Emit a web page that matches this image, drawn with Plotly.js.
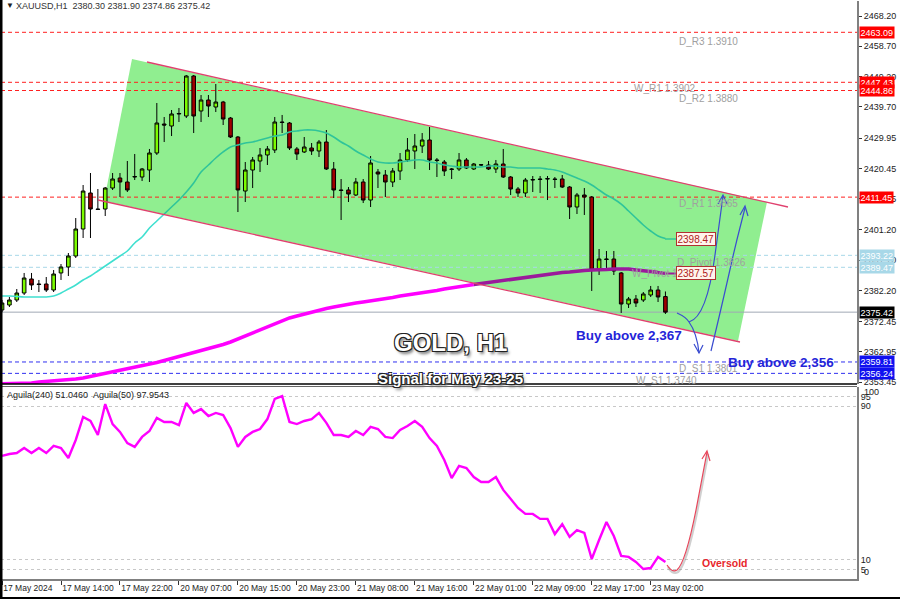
<!DOCTYPE html>
<html>
<head>
<meta charset="utf-8">
<script src="https://cdn.plot.ly/plotly-3.0.1.min.js"></script>
<style>html,body{margin:0;padding:0;background:#fff;}#chart{width:900px;height:599px;}</style>
</head>
<body>
<div id="chart"></div>
<script>
// ---------------- DATA ----------------
const barIndex = [0,1,2,3,4,5,6,7,8,9,10,11,12,13,14,15,16,17,18,19,20,21,22,23,24,25,26,27,28,29,30,31,32,33,34,35,36,37,38,39,40,41,42,43,44,45,46,47,48,49,50,51,52,53,54,55,56,57,58,59,60,61,62,63,64,65,66,67,68,69,70,71,72,73,74,75,76,77,78,79,80,81,82,83,84,85,86,87,88,89,90];
const tickIdx = [0,8,16,24,32,40,48,56,64,72,80,88];
const tickLabels = ['17 May 2024','17 May 14:00','17 May 22:00','20 May 07:00','20 May 15:00','20 May 23:00','21 May 08:00','21 May 16:00','22 May 01:00','22 May 09:00','22 May 17:00','23 May 02:00'];

const openP = [2376.10,2377.66,2379.23,2381.42,2385.81,2384.24,2384.24,2382.36,2387.69,2389.57,2393.01,2401.47,2412.75,2407.73,2407.73,2414.31,2417.45,2416.19,2417.76,2417.76,2419.95,2425.28,2434.36,2433.74,2437.50,2436.87,2449.40,2438.44,2441.88,2439.69,2441.25,2436.24,2430.29,2413.37,2419.95,2422.77,2424.66,2426.22,2434.99,2434.68,2426.54,2425.60,2426.85,2425.91,2428.72,2420.27,2413.69,2413.69,2412.12,2416.19,2410.55,2419.33,2418.39,2416.19,2419.64,2423.09,2425.91,2427.47,2429.35,2423.09,2422.46,2420.27,2420.27,2423.09,2420.27,2421.52,2421.52,2420.27,2421.83,2417.76,2414.00,2412.75,2416.82,2417.13,2417.13,2417.13,2417.13,2414.62,2408.36,2412.12,2411.49,2388.62,2392.07,2392.07,2387.69,2377.97,2379.54,2379.23,2380.79,2382.36,2380.30];
const highP = [2379.23,2380.17,2382.67,2387.69,2387.69,2385.50,2386.43,2388.62,2390.50,2393.95,2404.91,2415.25,2419.01,2414.00,2414.62,2419.01,2419.01,2422.77,2424.97,2420.58,2426.54,2440.94,2436.56,2438.75,2439.38,2449.71,2449.71,2443.45,2443.45,2446.89,2441.60,2436.56,2430.60,2422.46,2424.03,2426.85,2427.47,2436.56,2437.19,2434.99,2427.16,2430.29,2428.41,2429.35,2432.48,2422.46,2417.13,2414.62,2417.45,2417.13,2424.34,2420.27,2419.95,2420.58,2425.28,2429.98,2431.23,2431.54,2433.42,2423.71,2423.09,2420.58,2425.28,2423.71,2422.15,2421.83,2422.77,2423.09,2426.54,2418.07,2414.62,2417.45,2418.07,2418.07,2418.07,2417.76,2418.39,2414.94,2412.75,2414.31,2411.81,2395.20,2394.58,2394.58,2388.00,2380.17,2380.79,2381.73,2383.62,2383.62,2381.90];
const lowP = [2375.47,2377.03,2378.60,2380.79,2382.36,2381.73,2381.73,2381.73,2385.50,2386.74,2392.38,2398.65,2398.65,2407.42,2405.54,2413.69,2411.49,2413.06,2416.82,2416.50,2416.19,2424.66,2428.72,2430.60,2434.99,2436.24,2431.54,2434.99,2436.56,2438.12,2434.05,2429.98,2406.79,2409.93,2414.31,2419.33,2421.52,2425.28,2431.54,2426.22,2423.09,2425.28,2424.66,2424.03,2419.95,2411.18,2404.29,2409.93,2411.81,2409.61,2408.36,2414.31,2411.49,2414.62,2416.82,2422.46,2420.27,2425.28,2419.95,2417.76,2418.07,2417.13,2419.64,2420.27,2419.95,2421.21,2419.95,2419.01,2417.45,2412.12,2411.49,2411.49,2413.06,2412.75,2410.55,2414.31,2414.31,2404.60,2406.17,2405.86,2382.05,2387.06,2388.31,2387.06,2375.16,2376.72,2377.03,2378.60,2380.17,2378.60,2374.86];
const closeP = [2378.29,2379.23,2381.42,2386.12,2383.93,2384.10,2382.36,2387.37,2389.57,2393.01,2401.47,2413.37,2407.73,2407.60,2414.31,2417.13,2416.19,2413.69,2417.90,2420.27,2425.28,2434.68,2434.05,2437.50,2437.65,2449.40,2436.87,2441.88,2440.00,2441.25,2435.93,2430.29,2413.69,2419.95,2423.09,2424.66,2426.54,2434.99,2434.85,2426.85,2424.97,2427.16,2425.91,2428.72,2420.27,2413.69,2413.55,2412.43,2416.19,2410.55,2422.15,2418.70,2416.19,2419.64,2423.09,2426.22,2427.47,2429.35,2423.09,2422.95,2419.64,2420.15,2423.09,2420.58,2421.83,2421.60,2420.27,2421.83,2417.76,2414.00,2412.75,2416.82,2416.95,2417.00,2417.25,2417.00,2414.62,2408.36,2412.12,2411.49,2388.62,2392.07,2391.95,2388.31,2377.97,2379.54,2378.29,2381.11,2382.36,2380.17,2375.42];

const maFast = [2380.48,2380.48,2380.32,2380.17,2380.17,2380.17,2380.17,2380.48,2381.42,2382.67,2383.93,2385.50,2386.74,2388.31,2389.88,2391.45,2393.01,2394.58,2397.09,2398.97,2401.78,2403.98,2406.17,2408.36,2410.55,2413.06,2415.88,2419.33,2421.52,2423.71,2425.60,2427.16,2427.79,2428.41,2428.72,2429.35,2429.98,2430.60,2430.92,2431.86,2432.17,2432.48,2432.48,2432.17,2431.54,2430.29,2428.72,2427.47,2425.91,2424.66,2423.40,2422.46,2422.15,2422.15,2422.46,2422.77,2423.09,2423.09,2422.46,2422.15,2421.52,2421.21,2420.89,2420.89,2420.89,2420.89,2421.21,2421.21,2420.89,2420.89,2420.58,2420.58,2420.58,2420.58,2420.27,2419.95,2419.33,2418.39,2417.45,2416.51,2415.25,2413.69,2412.12,2410.87,2409.30,2407.11,2404.91,2402.72,2400.84,2399.28,2398.47];
const maSlow = [2353.00,2353.00,2353.07,2353.22,2353.22,2353.54,2353.69,2353.85,2354.01,2354.16,2354.48,2354.79,2355.26,2355.73,2356.20,2356.67,2357.14,2357.61,2358.08,2358.55,2359.02,2359.65,2360.27,2360.90,2361.37,2361.99,2362.62,2363.25,2363.87,2364.50,2365.28,2366.07,2367.01,2367.95,2368.89,2369.83,2370.77,2371.71,2372.65,2373.59,2374.21,2374.84,2375.47,2376.10,2376.57,2377.04,2377.51,2377.82,2378.29,2378.60,2378.92,2379.39,2379.70,2380.01,2380.48,2380.79,2381.11,2381.58,2381.89,2382.20,2382.67,2382.98,2383.45,2383.77,2384.08,2384.39,2384.86,2385.18,2385.49,2385.81,2386.12,2386.43,2386.74,2387.06,2387.37,2387.69,2387.84,2388.00,2388.31,2388.47,2388.62,2388.62,2388.78,2388.94,2388.94,2388.94,2388.62,2388.47,2388.16,2387.84,2387.57];
const aguila = [64.1,65.1,65.6,68.2,65.6,68.2,65.6,69.3,68.2,63.0,72.4,84.4,82.3,75.0,91.1,80.7,76.6,70.8,68.8,74.0,77.1,83.9,81.8,81.8,80.2,91.7,86.5,88.5,84.9,86.5,85.4,78.6,68.8,74.0,76.6,78.1,83.3,93.8,95.3,81.8,80.7,82.3,83.3,86.5,81.3,75.0,75.0,74.0,77.1,75.0,79.2,78.1,74.0,73.4,77.6,79.7,82.3,79.2,73.4,69.3,62.0,52.6,58.9,57.8,53.1,50.5,50.5,53.1,46.4,41.7,37.0,33.9,33.9,31.3,31.3,23.4,28.6,21.9,25.5,24.0,10.4,20.3,29.7,22.4,12.0,11.5,8.9,5.2,5.7,11.5,8.9];

const priceTickVals = [2468.20,2458.70,2449.20,2439.70,2429.95,2420.45,2410.95,2401.20,2391.70,2382.20,2372.45,2362.95,2353.45];
const redLevels = [2463.09,2447.43,2444.86,2411.45];
const lightBlueLevels = [2393.22,2389.47];
const blueLevels = [2359.81,2356.24];
const lastPrice = 2375.42;
const header = {o:'2380.30', h:'2381.90', l:'2374.86', c:'2375.42'};

// ---------------- HELPERS ----------------
const W = 900, H = 599;
const FONT = 'Liberation Sans, Arial, sans-serif';
const fx = px => px / W;
const fy = py => 1 - py / H;
const P = (px, py) => fx(px).toFixed(5) + ',' + fy(py).toFixed(5);
const fmt = v => v.toFixed(2);

const xStart = fx(1), xEnd = fx(857);

// ---------------- TRACES ----------------
const split1 = 22, split2 = 64;
const traces = [
  {type:'candlestick', x:barIndex, open:openP, high:highP, low:lowP, close:closeP,
   xaxis:'x', yaxis:'y', whiskerwidth:0,
   increasing:{fillcolor:'#7CFC00', line:{color:'#000', width:1}},
   decreasing:{fillcolor:'#A00000', line:{color:'#000', width:1}}},
  {type:'scatter', mode:'lines', x:barIndex.slice(0, split2+1), y:maSlow.slice(0, split2+1),
   line:{color:'#FF00FF', width:3.5}, yaxis:'y'},
  {type:'scatter', mode:'lines', x:barIndex.slice(split2), y:maSlow.slice(split2),
   line:{color:'#9B1A9B', width:3.5}, yaxis:'y'},
  {type:'scatter', mode:'lines', x:barIndex.slice(0, split1+1), y:maFast.slice(0, split1+1),
   line:{color:'#40E0D0', width:1.6, shape:'spline'}, yaxis:'y'},
  {type:'scatter', mode:'lines', x:barIndex.slice(split1), y:maFast.slice(split1),
   line:{color:'#2FC49A', width:1.6, shape:'spline'}, yaxis:'y'},
  {type:'scatter', mode:'lines', x:barIndex, y:aguila, yaxis:'y2',
   line:{color:'#FF00FF', width:2.4}}
];

// ---------------- SHAPES ----------------
const shapes = [];
shapes.push({type:'path', xref:'paper', yref:'paper', layer:'below',
  path:`M${P(132,59)} L${P(767,202)} L${P(738,341)} L${P(104,201)} Z`,
  fillcolor:'#90EE90', line:{width:0}});
redLevels.forEach(v => shapes.push({type:'line', xref:'paper', yref:'y', x0:xStart, x1:xEnd, y0:v, y1:v, layer:'below',
  line:{color:'#FF2020', width:1, dash:'4px,3px'}}));
lightBlueLevels.forEach(v => shapes.push({type:'line', xref:'paper', yref:'y', x0:xStart, x1:xEnd, y0:v, y1:v, layer:'below',
  line:{color:'#A8D8E8', width:1, dash:'4px,3px'}}));
blueLevels.forEach(v => shapes.push({type:'line', xref:'paper', yref:'y', x0:xStart, x1:xEnd, y0:v, y1:v, layer:'below',
  line:{color:'#3030F0', width:1, dash:'4px,3px'}}));
shapes.push({type:'line', xref:'paper', yref:'y', x0:xStart, x1:xEnd, y0:lastPrice, y1:lastPrice, layer:'below',
  line:{color:'#A0A8B4', width:1}});
shapes.push({type:'line', xref:'paper', yref:'paper', x0:fx(147), y0:fy(62), x1:fx(788), y1:fy(207),
  line:{color:'#E0406E', width:1.3}});
shapes.push({type:'line', xref:'paper', yref:'paper', x0:fx(98), y0:fy(200), x1:fx(740), y1:fy(342),
  line:{color:'#E0406E', width:1.3}});
shapes.push({type:'line', xref:'paper', yref:'paper', x0:fx(665), y0:fy(239), x1:fx(676), y1:fy(239), line:{color:'#2FC49A', width:1.4}});
shapes.push({type:'line', xref:'paper', yref:'paper', x0:fx(666), y0:fy(273.5), x1:fx(676), y1:fy(273.5), line:{color:'#9B1A9B', width:2}});
const blue = '#3A4CD0';
shapes.push({type:'path', xref:'paper', yref:'paper', path:`M${P(677,313)} Q${P(686,317)} ${P(689,322)} Q${P(697,333)} ${P(699,353)}`, line:{color:blue, width:1.2}});
shapes.push({type:'path', xref:'paper', yref:'paper', path:`M${P(694,344)} L${P(699,353)} L${P(703,345)}`, line:{color:blue, width:1.2}});
shapes.push({type:'path', xref:'paper', yref:'paper', path:`M${P(689,322)} C${P(704,318)} ${P(711,285)} ${P(715,255)} S${P(721,210)} ${P(723,196)}`, line:{color:blue, width:1.2}});
shapes.push({type:'path', xref:'paper', yref:'paper', path:`M${P(718,204)} L${P(723,195)} L${P(727,204)}`, line:{color:blue, width:1.2}});
shapes.push({type:'path', xref:'paper', yref:'paper', path:`M${P(711,351)} C${P(716,330)} ${P(725,292)} ${P(731,265)} S${P(741,224)} ${P(745,208)}`, line:{color:blue, width:1.2}});
shapes.push({type:'path', xref:'paper', yref:'paper', path:`M${P(740,215)} L${P(745,206)} L${P(748,216)}`, line:{color:blue, width:1.2}});
shapes.push({type:'path', xref:'paper', yref:'paper', path:`M${P(668,567)} Q${P(673,575)} ${P(678,572)} C${P(685,566)} ${P(691,542)} ${P(697,512)} L${P(708,454)}`, line:{color:'rgba(120,120,120,0.35)', width:2.5}});
shapes.push({type:'path', xref:'paper', yref:'paper', path:`M${P(667,565)} Q${P(672,573)} ${P(677,570)} C${P(684,564)} ${P(690,540)} ${P(696,510)} L${P(707,452)}`, line:{color:'#E8455A', width:1.2}});
shapes.push({type:'path', xref:'paper', yref:'paper', path:`M${P(702,459)} L${P(707,451)} L${P(710,461)}`, line:{color:'#E8455A', width:1.2}});
shapes.push({type:'line', xref:'paper', yref:'paper', x0:0, x1:fx(857), y0:fy(384), y1:fy(384), line:{color:'#000', width:1.5}});
shapes.push({type:'line', xref:'paper', yref:'paper', x0:0, x1:fx(857), y0:fy(386.5), y1:fy(386.5), line:{color:'#666', width:1}});
shapes.push({type:'rect', xref:'paper', yref:'paper', x0:0, x1:fx(2.5), y0:0, y1:1, fillcolor:'#000', line:{width:0}});
shapes.push({type:'rect', xref:'paper', yref:'paper', x0:0, x1:1, y0:0, y1:fy(597), fillcolor:'#000', line:{width:0}});

// ---------------- ANNOTATIONS ----------------
const ann = [];
const txt = (text, px, py, opts={}) => Object.assign({text, xref:'paper', yref:'paper', x:fx(px), y:fy(py),
  xanchor:'left', yanchor:'middle', showarrow:false, font:{family:FONT, size:10, color:'#A0A0A0'}}, opts);
ann.push(txt('▼', 4, 6, {font:{family:FONT, size:8, color:'#222'}}));
ann.push(txt('XAUUSD,H1\u00a0\u00a0' + [header.o, header.h, header.l, header.c].join('\u00a0'), 14, 6, {font:{family:FONT, size:9, color:'#333'}}));
ann.push(txt('Aguila(240) 51.0460\u00a0\u00a0Aguila(50) 97.9543', 5, 395, {font:{family:FONT, size:9, color:'#222'}}));
ann.push(txt('D_R3 1.3910', 677, 42));
ann.push(txt('W_R1 1.3902', 632, 89));
ann.push(txt('D_R2 1.3880', 677, 98));
ann.push(txt('D_R1 1.3865', 677, 204));
ann.push(txt('D_Pivot 1.3826', 675, 262));
ann.push(txt('W_Pivot 1.3816', 630, 274));
ann.push(txt('D_S1 1.3801', 677, 368));
ann.push(txt('W_S1 1.3740', 634, 380));
ann.push({text:fmt(maFast[maFast.length-1]), xref:'paper', yref:'y', x:fx(676), y:maFast[maFast.length-1], xanchor:'left', yanchor:'middle',
  showarrow:false, bgcolor:'#FFF4EC', bordercolor:'#B03030', borderwidth:1, borderpad:0.5, font:{family:FONT, size:10, color:'#B02020'}});
ann.push({text:fmt(maSlow[maSlow.length-1]), xref:'paper', yref:'y', x:fx(676), y:maSlow[maSlow.length-1], xanchor:'left', yanchor:'middle',
  showarrow:false, bgcolor:'#FFF4EC', bordercolor:'#B03030', borderwidth:1, borderpad:0.5, font:{family:FONT, size:10, color:'#B02020'}});
const outline = '-1px -1px 0 #222, 1px -1px 0 #222, -1px 1px 0 #222, 1px 1px 0 #222, 2px 3px 3px #777';
ann.push(txt('<b>GOLD, H1</b>', 450, 342, {xanchor:'center', font:{family:FONT, size:24, color:'#fff', shadow:outline}}));
ann.push(txt('<b>Signal for May 23-25</b>', 450, 378, {xanchor:'center', font:{family:FONT, size:15, color:'#fff', shadow:outline}}));
ann.push(txt('<b>Buy above 2,367</b>', 629, 335, {xanchor:'center', font:{family:FONT, size:13.5, color:'#2424D8'}}));
ann.push(txt('<b>Buy above 2,356</b>', 781, 362, {xanchor:'center', font:{family:FONT, size:13.5, color:'#2424D8'}}));
ann.push(txt('<b>Oversold</b>', 725, 563, {xanchor:'center', font:{family:FONT, size:10.5, color:'#E8262B'}}));
const box = (v, bg) => ({text:fmt(v), xref:'paper', yref:'y', x:fx(859), y:v, xanchor:'left', yanchor:'middle', showarrow:false,
  bgcolor:bg, borderpad:0.5, font:{family:FONT, size:9, color:'#fff'}});
redLevels.forEach(v => ann.push(box(v, '#FF0000')));
lightBlueLevels.forEach(v => ann.push(box(v, '#A8D8E8')));
blueLevels.forEach(v => ann.push(box(v, '#1010F0')));
ann.push(box(lastPrice, '#000000'));
ann.push(txt('100', 862, 392, {font:{family:FONT, size:9, color:'#222'}}));
ann.push(txt('0', 862, 572, {font:{family:FONT, size:9, color:'#222'}}));

// ---------------- LAYOUT ----------------
const layout = {
  width:W, height:H, margin:{l:0, r:0, t:0, b:0},
  paper_bgcolor:'#ffffff', plot_bgcolor:'rgba(0,0,0,0)',
  showlegend:false, hovermode:false, dragmode:false,
  xaxis:{domain:[xStart, xEnd], range:[-0.14, 115.99], anchor:'y2', rangeslider:{visible:false},
    tickmode:'array', tickvals:tickIdx, ticktext:tickLabels, ticks:'outside', ticklen:4, tickcolor:'#333',
    tickangle:0, ticklabelposition:'outside right', ticklabelstandoff:0,
    showline:true, linecolor:'#808080', linewidth:1.5, showgrid:false, zeroline:false,
    tickfont:{family:FONT, size:8.5, color:'#222'}},
  yaxis:{domain:[fy(384), fy(1)], range:[2352.91, 2472.90], side:'right', anchor:'x',
    tickmode:'array', tickvals:priceTickVals, ticktext:priceTickVals.map(fmt), ticks:'outside', ticklen:3, tickcolor:'#333',
    showline:true, linecolor:'#808080', linewidth:2, showgrid:false, zeroline:false,
    tickfont:{family:FONT, size:9, color:'#222'}},
  yaxis2:{domain:[fy(579), fy(387)], range:[0, 100], side:'right', anchor:'x',
    tickmode:'array', tickvals:[5,10,90,95], ticktext:['5','10','90','95'], ticks:'',
    showline:true, linecolor:'#808080', linewidth:2, showgrid:true, gridcolor:'#C8C8C8', griddash:'dot', gridwidth:1, zeroline:false,
    tickfont:{family:FONT, size:9, color:'#222'}},
  shapes:shapes, annotations:ann
};

Plotly.newPlot('chart', traces, layout, {staticPlot:true, displayModeBar:false});
</script>
</body>
</html>
